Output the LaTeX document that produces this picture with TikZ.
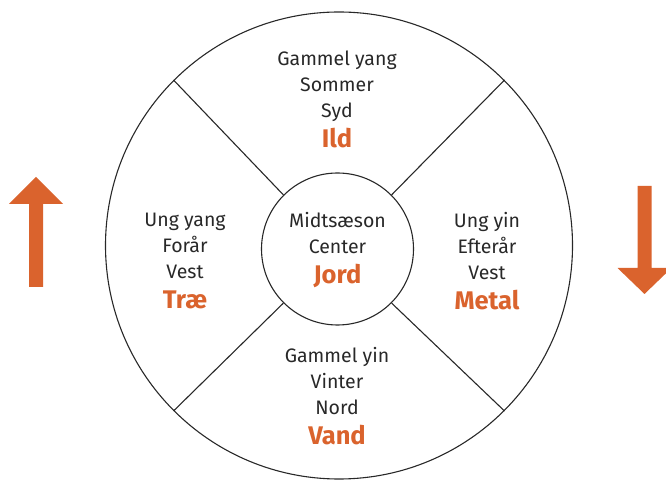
\documentclass[tikz,border=0pt]{standalone}
\usepackage{fontspec}
\setmainfont{Fira Sans}
\usetikzlibrary{positioning}
\definecolor{elemorange}{RGB}{218,99,45}
\definecolor{inkgray}{RGB}{40,40,40}
\tikzset{
  season/.style={align=center, text=inkgray, font=\fontsize{19.5}{26}\selectfont, inner sep=0pt},
  ring/.style={draw=inkgray, line width=1.1pt, circle, inner sep=0pt},
  divider/.style={draw=inkgray, line width=1.1pt},
  flow/.style={fill=elemorange, draw=none},
}
\newcommand{\elem}[1]{\\[4pt]{\color{elemorange}\bfseries\fontsize{25.5}{30}\selectfont #1}}

\begin{document}
\begin{tikzpicture}[x=1pt,y=1pt]
                \useasboundingbox (0,0) rectangle (666,479);
                \clip (0,0) rectangle (666,479);

                \coordinate (W) at (339,233.5);
                \coordinate (C) at (337.5,230);

                \node[ring, minimum size=467pt] (wheel) at (W) {};
                \node[ring, minimum size=152pt] (jord) at (C) {};
                \node[season] (jordtxt) at (337.5,229) {Midtsæson\\Center\elem{Jord}};

                \draw[divider] (jord.45) -- (wheel.45);
                \draw[divider] (jord.135) -- (wheel.135);
                \draw[divider] (jord.225) -- (wheel.225);
                \draw[divider] (jord.315) -- (wheel.315);

                \node[season] (ild) at (337,380) {Gammel yang\\Sommer\\Syd\elem{Ild}};
                \node[season] (trae) at (185,218) {Ung yang\\Forår\\Vest\elem{Træ}};
                \node[season] (metal) at (487,218) {Ung yin\\Efterår\\Vest\elem{Metal}};
                \node[season] (vand) at (337,83) {Gammel yin\\Vinter\\Nord\elem{Vand}};

                % yang rises, yin sinks
                \fill[flow] (29,192) -- (29,275) -- (9,275) -- (36,302) -- (63,275) -- (43,275) -- (43,192) -- cycle;
                \fill[flow] (637.5,293) -- (637.5,211) -- (617.5,211) -- (644.5,185) -- (671.5,211) -- (651.5,211) -- (651.5,293) -- cycle;

                \end{tikzpicture}
\end{document}
